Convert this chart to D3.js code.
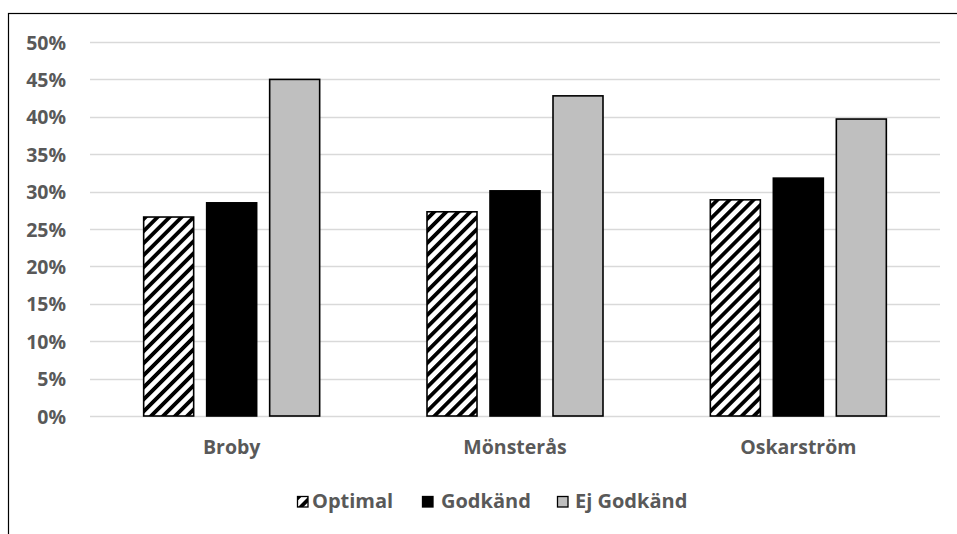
<!DOCTYPE html>
<html>
<head>
<meta charset="utf-8">
<script src="https://cdn.jsdelivr.net/npm/d3@7"></script>
<style>
  html, body { margin: 0; padding: 0; background: #fff; }
  svg { display: block; }
  text { font-family: "Open Sans", Lato, sans-serif; font-weight: 700; fill: #595959; }
</style>
</head>
<body>
<script>
// Share of results per town
const categories = ["Broby", "Mönsterås", "Oskarström"];
const seriesNames = ["Optimal", "Godkänd", "Ej Godkänd"];
const optimal = [26.6, 27.3, 28.9];
const godkand = [28.5, 30.1, 31.8];
const ejGodkand = [45.0, 42.8, 39.7];
const yTicks = [0, 5, 10, 15, 20, 25, 30, 35, 40, 45, 50];

const seriesValues = [optimal, godkand, ejGodkand];
const W = 957, H = 534;
const plot = { left: 90, right: 940, top: 42, bottom: 416 };
const FONT = "'Open Sans', Lato, sans-serif";

const svg = d3.select("body").append("svg").attr("width", W).attr("height", H);
const defs = svg.append("defs");

// diagonal stripe fill for the "Optimal" series
const pat = defs.append("pattern")
  .attr("id", "hatch")
  .attr("patternUnits", "userSpaceOnUse")
  .attr("width", 8.5).attr("height", 8.5)
  .attr("patternTransform", "rotate(45)");
pat.append("rect").attr("width", 8.5).attr("height", 8.5).attr("fill", "#fff");
pat.append("rect").attr("x", 0).attr("width", 3.8).attr("height", 8.5).attr("fill", "#000");

const fills = ["url(#hatch)", "#000", "#bfbfbf"];

// outer chart frame
svg.append("rect")
  .attr("x", 8.5).attr("y", 13.5)
  .attr("width", W).attr("height", H)
  .attr("fill", "none").attr("stroke", "#000").attr("stroke-width", 1.2);

const y = d3.scaleLinear().domain([0, 50]).range([plot.bottom, plot.top]);
const x0 = d3.scaleBand().domain(categories).range([plot.left, plot.right]).padding(0);
const groupWidth = 176;
const x1 = d3.scaleBand().domain(seriesNames).range([0, groupWidth]).paddingInner(13 / 63);

// gridlines
svg.append("g")
  .selectAll("line")
  .data(yTicks)
  .join("line")
  .attr("x1", plot.left).attr("x2", plot.right)
  .attr("y1", d => Math.round(y(d)) + 0.5).attr("y2", d => Math.round(y(d)) + 0.5)
  .attr("stroke", "#d9d9d9").attr("stroke-width", 1.3);

// y axis labels
const yAxis = d3.axisLeft(y).tickValues(yTicks).tickFormat(d => d + "%").tickSize(0).tickPadding(0);
const gy = svg.append("g").attr("transform", `translate(66,0)`).call(yAxis);
gy.select(".domain").remove();
gy.selectAll("text").attr("font-size", 19.5).attr("dy", "0.36em")
  .style("font-family", FONT).style("font-weight", 700).attr("fill", "#595959");

// bars
const groups = svg.append("g")
  .selectAll("g")
  .data(categories)
  .join("g")
  .attr("transform", d => `translate(${x0(d) + (x0.bandwidth() - groupWidth) / 2},0)`);

groups.selectAll("rect")
  .data((d, i) => seriesNames.map((s, j) => ({ s, j, v: seriesValues[j][i] })))
  .join("rect")
  .attr("x", d => x1(d.s))
  .attr("y", d => y(d.v))
  .attr("width", x1.bandwidth())
  .attr("height", d => y(0) - y(d.v))
  .attr("fill", d => fills[d.j])
  .attr("stroke", "#000")
  .attr("stroke-width", 1.6);

// category labels
const xAxis = d3.axisBottom(x0).tickSize(0).tickPadding(0);
const gx = svg.append("g").attr("transform", `translate(0,${plot.bottom})`).call(xAxis);
gx.select(".domain").remove();
gx.selectAll("text").attr("font-size", 19.5).attr("y", 38).attr("dy", 0)
  .style("font-family", FONT).style("font-weight", 700).attr("fill", "#595959");

// legend
const legendX = [297, 422, 557];
const legendTextDx = [15, 19, 18];
const legend = svg.append("g")
  .selectAll("g")
  .data(seriesNames)
  .join("g")
  .attr("transform", (d, i) => `translate(${legendX[i]},496)`);
legend.append("rect")
  .attr("x", 0.5).attr("y", 0.5).attr("width", 10.5).attr("height", 10.5)
  .attr("fill", (d, i) => fills[i]).attr("stroke", "#000").attr("stroke-width", 1.3);
legend.append("text")
  .attr("x", (d, i) => legendTextDx[i]).attr("y", 11.5)
  .attr("font-size", 20)
  .text(d => d);
</script>
</body>
</html>
